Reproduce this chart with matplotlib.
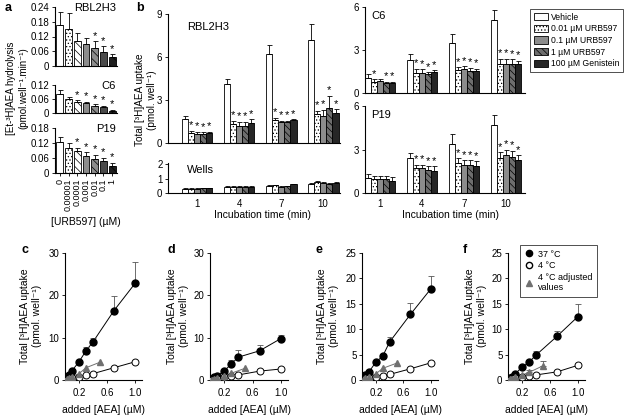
import matplotlib
matplotlib.use("Agg")
import matplotlib.pyplot as plt
import numpy as np
from matplotlib.patches import Patch
from matplotlib.lines import Line2D

plt.rcParams['font.family'] = ['Liberation Sans', 'DejaVu Sans']
plt.rcParams['font.size'] = 7
plt.rcParams['hatch.linewidth'] = 0.5
plt.rcParams['axes.linewidth'] = 0.8

# ---- panel a : hydrolysis vs URB597 ----
conc_labels = ['0', '0.00001', '0.0001', '0.001', '0.01', '0.1', '1']
rbl_a = [0.165, 0.152, 0.103, 0.088, 0.075, 0.058, 0.035]
rbl_a_err = [0.055, 0.063, 0.033, 0.025, 0.025, 0.022, 0.012]
rbl_a_sig = [0, 0, 0, 0, 1, 1, 1]
c6_a = [0.080, 0.060, 0.047, 0.042, 0.031, 0.025, 0.010]
c6_a_err = [0.018, 0.010, 0.008, 0.007, 0.008, 0.006, 0.004]
c6_a_sig = [0, 0, 1, 1, 1, 1, 1]
p19_a = [0.125, 0.100, 0.090, 0.068, 0.058, 0.048, 0.030]
p19_a_err = [0.020, 0.020, 0.010, 0.015, 0.014, 0.013, 0.012]
p19_a_sig = [0, 0, 1, 1, 1, 1, 1]

# ---- panel b : uptake vs time ----
times = [1, 4, 7, 10]
treatments = ['Vehicle', '0.01 µM URB597', '0.1 µM URB597', '1 µM URB597', '100 µM Genistein']
rbl_b = [[1.65, 0.70, 0.65, 0.62, 0.68], [4.1, 1.3, 1.2, 1.2, 1.4],
         [6.2, 1.6, 1.45, 1.45, 1.6], [7.2, 2.0, 1.9, 2.45, 2.1]]
rbl_b_err = [[0.25, 0.15, 0.12, 0.12, 0.08], [0.35, 0.25, 0.25, 0.25, 0.25],
             [0.65, 0.15, 0.08, 0.10, 0.05], [1.1, 0.25, 0.4, 0.85, 0.25]]
rbl_b_sig = [[0, 1, 1, 1, 1]] * 4
wells_b = [[0.30, 0.30, 0.30, 0.32, 0.33], [0.42, 0.45, 0.43, 0.45, 0.43],
           [0.50, 0.53, 0.45, 0.47, 0.60], [0.65, 0.75, 0.70, 0.65, 0.70]]
wells_b_err = [[0.03, 0.03, 0.03, 0.04, 0.03], [0.05, 0.04, 0.04, 0.04, 0.04],
               [0.04, 0.05, 0.04, 0.04, 0.06], [0.08, 0.06, 0.08, 0.07, 0.08]]
c6_b = [[1.05, 0.75, 0.85, 0.70, 0.70], [2.3, 1.4, 1.4, 1.3, 1.45],
        [3.5, 1.6, 1.65, 1.55, 1.55], [5.1, 2.0, 2.05, 2.0, 2.0]]
c6_b_err = [[0.25, 0.2, 0.15, 0.1, 0.1], [0.4, 0.3, 0.25, 0.15, 0.15],
            [0.6, 0.2, 0.2, 0.2, 0.15], [0.7, 0.4, 0.35, 0.35, 0.25]]
c6_b_sig = [[0, 1, 0, 1, 1], [0, 1, 1, 1, 1], [0, 1, 1, 1, 1], [0, 1, 1, 1, 1]]
p19_b = [[1.05, 0.95, 0.95, 1.0, 0.85], [2.4, 1.7, 1.75, 1.6, 1.5],
         [3.4, 2.05, 1.95, 1.95, 1.85], [4.7, 2.4, 2.6, 2.5, 2.3]]
p19_b_err = [[0.25, 0.2, 0.2, 0.2, 0.25], [0.35, 0.25, 0.2, 0.25, 0.35],
             [0.7, 0.35, 0.3, 0.3, 0.35], [0.7, 0.4, 0.4, 0.4, 0.3]]
p19_b_sig = [[0, 0, 0, 0, 0], [0, 1, 1, 1, 1], [0, 1, 1, 1, 1], [0, 1, 1, 1, 1]]

# ---- panels c-f : uptake vs AEA ----
aea = [0.025, 0.05, 0.1, 0.2, 0.3, 0.4, 0.7, 1.0]
aea_adj = [0.025, 0.05, 0.1, 0.2, 0.3, 0.5]
hot_c = [0.6, 1.2, 2.2, 4.3, 6.9, 9.0, 16.4, 22.8]
hot_c_err = [0.1, 0.2, 0.3, 0.4, 1.0, 1.0, 3.4, 5.0]
cold_c = [0.1, 0.2, 0.4, 0.7, 1.1, 1.5, 2.9, 4.3]
adj_c = [0.2, 0.4, 0.8, 1.5, 2.9, 4.2]
hot_d = [0.3, 0.6, 1.0, 2.1, 3.8, 5.4, 6.9, 9.8]
hot_d_err = [0.1, 0.1, 0.2, 0.3, 0.9, 1.7, 1.4, 0.9]
cold_d = [0.05, 0.1, 0.3, 0.6, 0.9, 1.2, 2.1, 2.6]
adj_d = [0.1, 0.2, 0.5, 1.0, 1.6, 2.8]
hot_e = [0.5, 1.0, 1.6, 3.5, 4.7, 7.5, 12.9, 18.0]
hot_e_err = [0.1, 0.15, 0.2, 0.3, 0.4, 0.9, 2.2, 2.4]
cold_e = [0.05, 0.1, 0.3, 0.5, 0.7, 1.1, 2.2, 3.4]
adj_e = [0.15, 0.3, 0.6, 1.2, 2.3, 3.3]
hot_f = [0.3, 0.6, 1.2, 2.5, 3.5, 4.9, 8.6, 12.5]
hot_f_err = [0.05, 0.1, 0.2, 0.3, 0.4, 0.8, 1.0, 2.4]
cold_f = [0.05, 0.1, 0.3, 0.6, 0.8, 1.0, 1.6, 2.9]
adj_f = [0.1, 0.25, 0.5, 1.0, 1.5, 2.8]
adj_f_err = [0.02, 0.05, 0.1, 0.2, 0.4, 0.9]

W, H = 624, 417


def box(x0, y0, x1, y1):
    return [x0 / W, 1 - y1 / H, (x1 - x0) / W, (y1 - y0) / H]


def clean(ax):
    ax.spines['top'].set_visible(False)
    ax.spines['right'].set_visible(False)
    ax.tick_params(direction='out', length=2.5, width=0.6, pad=1.5, labelsize=7)


fig = plt.figure(figsize=(6.24, 4.17), dpi=100)

# panel a
a_styles = [('white', ''), ('white', '.....'), ('white', '\\\\\\\\'), ('#8c8c8c', ''),
            ('#8c8c8c', '\\\\\\\\'), ('#4a4a4a', ''), ('#1e1e1e', '\\\\\\')]


def panel_a(pos, vals, errs, sig, ymax, yt, name, last=False):
    ax = fig.add_axes(box(*pos))
    x = np.arange(len(vals))
    for i in x:
        fc, h = a_styles[i]
        ax.bar(i, vals[i], width=0.8, facecolor=fc, hatch=h, edgecolor='black', lw=0.6)
        ax.errorbar(i, vals[i], yerr=[[0], [errs[i]]], fmt='none', ecolor='black',
                    elinewidth=0.6, capsize=1.8, capthick=0.6)
        if sig[i]:
            ax.text(i, vals[i] + errs[i] + ymax * 0.01, '*', ha='center', va='bottom', fontsize=8)
    ax.set_xlim(-0.55, 6.55)
    ax.set_ylim(0, ymax)
    ax.set_yticks(yt)
    ax.set_yticklabels([('%g' % v) for v in yt])
    clean(ax)
    ax.text(0.98, 0.98, name, transform=ax.transAxes, ha='right', va='center', fontsize=8)
    if last:
        ax.set_xticks(x)
        ax.set_xticklabels(conc_labels, rotation=90, fontsize=6.5)
    else:
        ax.set_xticks([])
    return ax


panel_a((55, 7, 117, 66), rbl_a, rbl_a_err, rbl_a_sig, 0.24, [0, 0.06, 0.12, 0.18, 0.24], 'RBL2H3')
panel_a((55, 85, 117, 113), c6_a, c6_a_err, c6_a_sig, 0.12, [0, 0.06, 0.12], 'C6')
panel_a((55, 128, 117, 173), p19_a, p19_a_err, p19_a_sig, 0.18, [0, 0.06, 0.12, 0.18], 'P19', last=True)
fig.text(17 / W, 1 - 88 / H, '[Et-³H]AEA hydrolysis\n(pmol.well⁻¹.min⁻¹)', rotation=90,
         ha='center', va='center', fontsize=7, linespacing=1.3)
fig.text(86 / W, 1 - 222 / H, '[URB597] (µM)', ha='center', va='center', fontsize=7.5)

# panel b
b_styles = [('white', ''), ('white', '.....'), ('#8c8c8c', ''), ('#6e6e6e', '\\\\\\\\\\'), ('#262626', '')]
bw = 0.44


def panel_b(pos, vals, errs, sig, ymax, yt, name, xlim, labels=False):
    ax = fig.add_axes(box(*pos))
    for j in range(5):
        xs = np.array(times) + (j - 2) * bw
        hs = [vals[i][j] for i in range(4)]
        es = [errs[i][j] for i in range(4)]
        fc, h = b_styles[j]
        ax.bar(xs, hs, width=bw, facecolor=fc, hatch=h, edgecolor='black', lw=0.6)
        ax.errorbar(xs, hs, yerr=[np.zeros(4), es], fmt='none', ecolor='black',
                    elinewidth=0.6, capsize=1.8, capthick=0.6)
        if sig is not None:
            for i in range(4):
                if sig[i][j]:
                    ax.text(xs[i], hs[i] + es[i] + ymax * 0.005, '*', ha='center',
                            va='bottom', fontsize=8)
    ax.set_xlim(*xlim)
    ax.set_ylim(0, ymax)
    ax.set_yticks(yt)
    clean(ax)
    ax.text(0.11 if xlim[0] < -0.5 else 0.04, 0.9, name, transform=ax.transAxes,
            ha='left', va='center', fontsize=8)
    if labels:
        ax.set_xticks(times)
        ax.tick_params(axis='x', length=0, pad=4)
    else:
        ax.set_xticks([])
    return ax


panel_b((168, 14, 340, 143), rbl_b, rbl_b_err, rbl_b_sig, 9, [0, 3, 6, 9], 'RBL2H3', (-1.07, 11.2))
axw = panel_b((168, 163, 340, 193), wells_b, wells_b_err, None, 2.1, [0, 1, 2], 'Wells', (-1.07, 11.2), labels=True)
axw.texts[-1].set_position((0.11, 0.78))
panel_b((365, 7, 525, 93), c6_b, c6_b_err, c6_b_sig, 6, [0, 3, 6], 'C6', (-0.07, 11.36))
panel_b((365, 106, 525, 193), p19_b, p19_b_err, p19_b_sig, 6, [0, 3, 6], 'P19', (-0.07, 11.36), labels=True)
fig.text(146 / W, 1 - 100 / H, 'Total [³H]AEA uptake\n(pmol. well⁻¹)', rotation=90,
         ha='center', va='center', fontsize=7.2, linespacing=1.2)
fig.text(263 / W, 1 - 215 / H, 'Incubation time (min)', ha='center', va='center', fontsize=7.5)
fig.text(450 / W, 1 - 215 / H, 'Incubation time (min)', ha='center', va='center', fontsize=7.5)

handles = [Patch(facecolor=fc, hatch=h, edgecolor='black', lw=0.6) for fc, h in b_styles]
leg = fig.legend(handles, treatments, loc='upper right', bbox_to_anchor=(623 / W, 1 - 9 / H),
                 fontsize=6.2, frameon=True, fancybox=False, edgecolor='black',
                 handlelength=1.7, handleheight=0.9, borderpad=0.45, labelspacing=0.3,
                 handletextpad=0.25, borderaxespad=0)
leg.get_frame().set_linewidth(0.6)

# panels c-f


def panel_uptake(pos, hot, hot_err, cold, adj, ymax, yt, ylab_x, adj_err=None):
    ax = fig.add_axes(box(*pos))
    ax.plot(aea, hot, '-', color='black', lw=0.7, zorder=2)
    ax.plot(aea, cold, '-', color='black', lw=0.7, zorder=2)
    ax.plot(aea_adj, adj, '-', color='#707070', lw=0.7, zorder=2)
    ax.errorbar(aea, hot, yerr=[np.zeros(len(hot)), hot_err], fmt='o', color='black',
                ms=5, elinewidth=0.6, capsize=2, capthick=0.6, ecolor='#555555', zorder=3)
    ax.plot(aea, cold, 'o', mfc='white', mec='black', mew=0.7, ms=5, zorder=4)
    if adj_err is not None:
        ax.errorbar(aea_adj, adj, yerr=[np.zeros(len(adj)), adj_err], fmt='none',
                    ecolor='#555555', elinewidth=0.6, capsize=2, capthick=0.6, zorder=3)
    ax.plot(aea_adj, adj, '^', color='#707070', ms=5, zorder=4)
    ax.set_xlim(0, 1.1)
    ax.set_ylim(0, ymax)
    ax.set_xticks([0.2, 0.6, 1.0])
    ax.set_xticklabels(['0.2', '0.6', '1.0'])
    ax.set_yticks(yt)
    clean(ax)
    ax.tick_params(axis='x', pad=3)
    ax.set_xlabel('added [AEA] (µM)', fontsize=7.5, labelpad=5)
    fig.text(ylab_x / W, 1 - 316 / H, 'Total [³H]AEA uptake\n(pmol. well⁻¹)', rotation=90,
             ha='center', va='center', fontsize=7.5, linespacing=1.3)
    return ax


panel_uptake((65, 253, 142, 380), hot_c, hot_c_err, cold_c, adj_c, 30, [0, 10, 20, 30], 31)
panel_uptake((210, 253, 288, 380), hot_d, hot_d_err, cold_d, adj_d, 30, [0, 10, 20, 30], 178)
panel_uptake((362, 253, 438, 380), hot_e, hot_e_err, cold_e, adj_e, 25, [0, 5, 10, 15, 20, 25], 328)
panel_uptake((508, 253, 585, 380), hot_f, hot_f_err, cold_f, adj_f, 25, [0, 5, 10, 15, 20, 25], 476,
             adj_err=adj_f_err)

leg_handles = [Line2D([], [], marker='o', ls='none', color='black', ms=4.5),
               Line2D([], [], marker='o', ls='none', mfc='white', mec='black', ms=4.5),
               Line2D([], [], marker='^', ls='none', color='#707070', ms=5)]
leg2 = fig.legend(leg_handles, ['37 °C', '4 °C', '4 °C adjusted\nvalues'], loc='upper left',
                  bbox_to_anchor=(520 / W, 1 - 245 / H), fontsize=6.5, frameon=True, fancybox=False,
                  edgecolor='black', handlelength=1.0, handletextpad=0.5, borderpad=0.5,
                  labelspacing=0.3, borderaxespad=0)
leg2.get_frame().set_linewidth(0.6)

# panel letters
for lab, x, y in [('a', 5, 8), ('b', 136, 8), ('c', 22, 250), ('d', 168, 250),
                  ('e', 316, 250), ('f', 463, 250)]:
    fig.text(x / W, 1 - y / H, lab, fontsize=9, fontweight='bold', ha='left', va='center')

fig.savefig('out.png', dpi=100)
